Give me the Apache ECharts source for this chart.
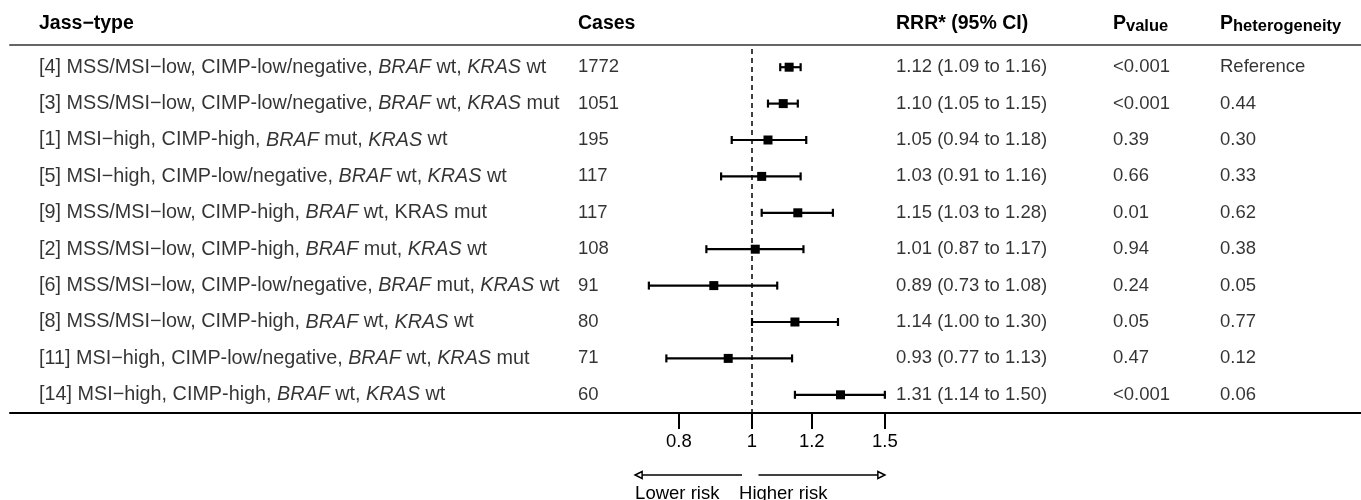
<!DOCTYPE html>
<html lang="en">
<head>
    <meta charset="utf-8">
    <title>Jass-type forest plot</title>
    <script src="https://cdn.jsdelivr.net/npm/echarts@6/dist/echarts.min.js"></script>
    <style>
        html, body { margin: 0; padding: 0; background: #fff; }
        #main { width: 1361px; height: 500px; }
    </style>
</head>
<body>
<div id="main"></div>
<script>
// 数据 (italic parts between *...*)
var jassLabels = [
    '[4] MSS/MSI\u2212low, CIMP-low/negative, *BRAF* wt, *KRAS* wt',
    '[3] MSS/MSI\u2212low, CIMP-low/negative, *BRAF* wt, *KRAS* mut',
    '[1] MSI\u2212high, CIMP-high, *BRAF* mut, *KRAS* wt',
    '[5] MSI\u2212high, CIMP-low/negative, *BRAF* wt, *KRAS* wt',
    '[9] MSS/MSI\u2212low, CIMP-high, *BRAF* wt, KRAS mut',
    '[2] MSS/MSI\u2212low, CIMP-high, *BRAF* mut, *KRAS* wt',
    '[6] MSS/MSI\u2212low, CIMP-low/negative, *BRAF* mut, *KRAS* wt',
    '[8] MSS/MSI\u2212low, CIMP-high, *BRAF* wt, *KRAS* wt',
    '[11] MSI\u2212high, CIMP-low/negative, *BRAF* wt, *KRAS* mut',
    '[14] MSI\u2212high, CIMP-high, *BRAF* wt, *KRAS* wt'
];
var cases  = [1772, 1051, 195, 117, 117, 108, 91, 80, 71, 60];
var rrr    = [1.12, 1.10, 1.05, 1.03, 1.15, 1.01, 0.89, 1.14, 0.93, 1.31];
var ciLow  = [1.09, 1.05, 0.94, 0.91, 1.03, 0.87, 0.73, 1.00, 0.77, 1.14];
var ciHigh = [1.16, 1.15, 1.18, 1.16, 1.28, 1.17, 1.08, 1.30, 1.13, 1.50];
var pValues = ['<0.001', '<0.001', '0.39', '0.66', '0.01', '0.94', '0.24', '0.05', '0.47', '<0.001'];
var pHet    = ['Reference', '0.44', '0.30', '0.33', '0.62', '0.38', '0.05', '0.77', '0.12', '0.06'];
var axisTicks = [0.8, 1, 1.2, 1.5];

// 布局
var W = 1361, gridLeft = 10, gridTop = 49, gridBottom = 413;
var oneX = 752, pxPerLn = 327.7;          // 对数轴: x(1) 和每个 ln 单位的像素
var colLabel = 39, colCases = 578, colRrr = 896, colP = 1113, colHet = 1220;
var font = 'Liberation Sans, Arial, Helvetica, sans-serif';
var fs = 18.5, lfs = 19.8, hfs = 19.5;

var logMin = Math.exp(-(oneX - gridLeft) / pxPerLn);
var logMax = Math.exp((W - oneX) / pxPerLn);

function richLabel(s) {
    return s.split('*').map(function (part, k) {
        return part === '' ? '' : '{' + (k % 2 ? 'i' : 'n') + '|' + part + '}';
    }).join('');
}
function f2(v) { return v.toFixed(2); }

function textSeries(x, texts, size) {
    return {
        type: 'scatter', xAxisIndex: 1, yAxisIndex: 0,
        symbolSize: 0, silent: true,
        data: texts.map(function (t, i) { return [x, i]; }),
        label: {
            show: true, position: 'right', distance: 0,
            color: '#000', fontFamily: font, fontSize: size,
            formatter: function (p) { return texts[p.dataIndex]; },
            rich: {
                n: { fontFamily: font, fontSize: size, color: '#000' },
                i: { fontFamily: font, fontSize: size, color: '#000', fontStyle: 'italic' }
            }
        }
    };
}

var myChart = echarts.init(document.getElementById('main'));
myChart.setOption({
    animation: false,
    backgroundColor: '#fff',
    grid: { left: gridLeft, right: 0, top: gridTop, bottom: 500 - gridBottom },
    xAxis: [{
        type: 'log', min: logMin, max: logMax, position: 'bottom',
        axisLine: { show: true, lineStyle: { color: '#000', width: 2 } },
        axisTick: { show: true, customValues: axisTicks, length: 16, lineStyle: { color: '#000', width: 2 } },
        axisLabel: {
            show: true, customValues: axisTicks, margin: 19,
            color: '#000', fontFamily: font, fontSize: fs,
            formatter: function (v) { return String(+(+v).toFixed(2)); }
        },
        splitLine: { show: false }
    }, {
        type: 'value', min: gridLeft, max: W, position: 'top', offset: 4,
        axisLine: { show: true, lineStyle: { color: '#666', width: 2 } },
        axisTick: { show: false }, axisLabel: { show: false }, splitLine: { show: false }
    }],
    yAxis: {
        type: 'category', inverse: true, show: false,
        data: jassLabels.map(function (s, i) { return i; })
    },
    series: [{
        type: 'custom', xAxisIndex: 0, yAxisIndex: 0, silent: true,
        data: rrr.map(function (v, i) { return [v, i, ciLow[i], ciHigh[i]]; }),
        encode: { x: [0, 2, 3], y: 1 },
        renderItem: function (params, api) {
            var mid = api.coord([api.value(0), api.value(1)]);
            var lo = api.coord([api.value(2), api.value(1)]);
            var hi = api.coord([api.value(3), api.value(1)]);
            var cap = 4, sq = 4.5;
            var st = { stroke: '#000', lineWidth: 2.2 };
            return {
                type: 'group',
                children: [
                    { type: 'line', shape: { x1: lo[0], y1: lo[1], x2: hi[0], y2: hi[1] }, style: st },
                    { type: 'line', shape: { x1: lo[0], y1: lo[1] - cap, x2: lo[0], y2: lo[1] + cap }, style: st },
                    { type: 'line', shape: { x1: hi[0], y1: hi[1] - cap, x2: hi[0], y2: hi[1] + cap }, style: st },
                    { type: 'rect', shape: { x: mid[0] - sq, y: mid[1] - sq, width: sq * 2, height: sq * 2 }, style: { fill: '#000' } }
                ]
            };
        },
        markLine: {
            silent: true, symbol: ['none', 'none'], label: { show: false },
            lineStyle: { color: '#000', width: 1.5, type: [5, 4] },
            data: [{ xAxis: 1 }]
        }
    },
    textSeries(colLabel, jassLabels.map(richLabel), lfs),
    textSeries(colCases, cases.map(String), fs),
    textSeries(colRrr, rrr.map(function (v, i) { return f2(v) + ' (' + f2(ciLow[i]) + ' to ' + f2(ciHigh[i]) + ')'; }), fs),
    textSeries(colP, pValues, fs),
    textSeries(colHet, pHet, fs)
    ]
});

// 表头和箭头
var hdr = { fontFamily: font, fontSize: hfs, fontWeight: 'bold', fill: '#000', verticalAlign: 'middle' };
var subRich = {
    a: { fontFamily: font, fontSize: hfs, fontWeight: 'bold', color: '#000' },
    b: { fontFamily: font, fontSize: 16.5, fontWeight: 'bold', color: '#000', padding: [5, 0, 0, 0] }
};
function hText(x, text, rich) {
    return { type: 'text', x: x, y: 24, silent: true,
        style: Object.assign({ text: text, rich: rich }, hdr) };
}
var ay = 475, ty = 494;
var xa = myChart.convertToPixel({ xAxisIndex: 0 }, 0.7);
var xb = myChart.convertToPixel({ xAxisIndex: 0 }, 0.97);
var xc = myChart.convertToPixel({ xAxisIndex: 0 }, 1.02);
var xd = myChart.convertToPixel({ xAxisIndex: 0 }, 1.5);
var arrowSt = { stroke: '#000', lineWidth: 1.5, fill: 'none' };
var headSt = { stroke: '#000', lineWidth: 1.5, fill: '#fff' };
myChart.setOption({
    graphic: [
        hText(colLabel, 'Jass\u2212type'),
        hText(colCases, 'Cases'),
        hText(colRrr, 'RRR* (95% CI)'),
        hText(colP, '{a|P}{b|value}', subRich),
        hText(colHet, '{a|P}{b|heterogeneity}', subRich),
        { type: 'line', silent: true, shape: { x1: xa + 7, y1: ay, x2: xb, y2: ay }, style: arrowSt },
        { type: 'polygon', silent: true, shape: { points: [[xa, ay], [xa + 7, ay - 3.5], [xa + 7, ay + 3.5]] }, style: headSt },
        { type: 'line', silent: true, shape: { x1: xc, y1: ay, x2: xd - 7, y2: ay }, style: arrowSt },
        { type: 'polygon', silent: true, shape: { points: [[xd, ay], [xd - 7, ay - 3.5], [xd - 7, ay + 3.5]] }, style: headSt },
        { type: 'text', x: xa, y: ty, silent: true,
          style: { text: 'Lower risk', fontFamily: font, fontSize: fs, fill: '#000', verticalAlign: 'middle' } },
        { type: 'text', x: xb - 3, y: ty, silent: true,
          style: { text: 'Higher risk', fontFamily: font, fontSize: fs, fill: '#000', verticalAlign: 'middle' } }
    ]
});
</script>
</body>
</html>
